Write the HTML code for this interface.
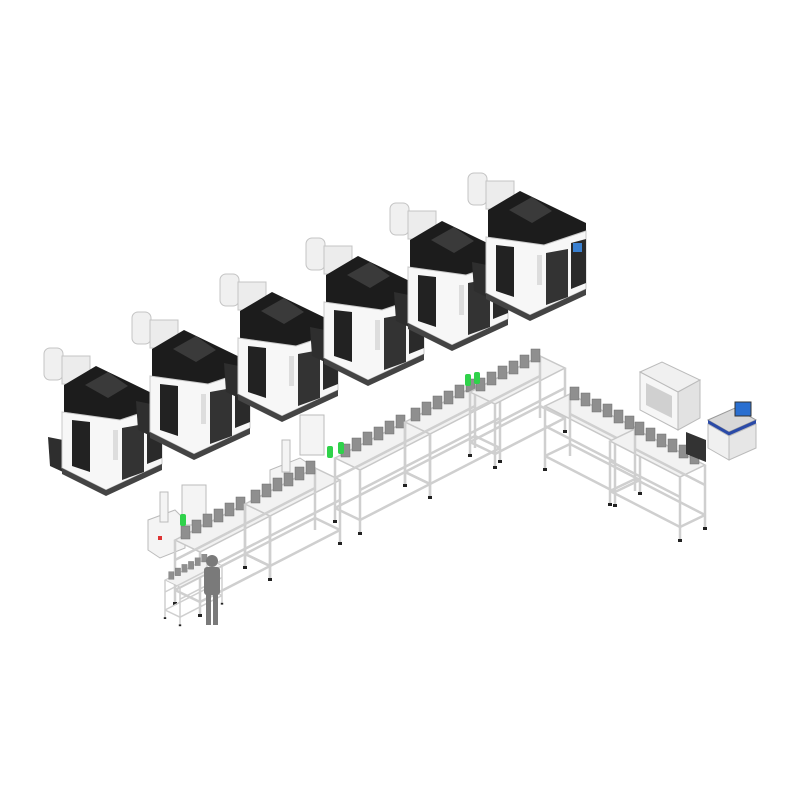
<!DOCTYPE html>
<html><head><meta charset="utf-8"><style>html,body{margin:0;padding:0;background:#fff}svg{display:block}</style></head>
<body>
<svg width="800" height="800" viewBox="0 0 800 800" xmlns="http://www.w3.org/2000/svg">
<defs>
 <g id="m">
  <polygon points="48,437 63,440 63,472 50,466" fill="#2e2e2e"/>
  <rect x="44" y="348" width="19" height="32" rx="6" fill="#f0f0f0" stroke="#c4c4c4"/>
  <rect x="62" y="356" width="28" height="28" fill="#ececec" stroke="#c4c4c4"/>
  <polygon points="64,385 96,366 162,398 162,408 120,420 64,412" fill="#1c1c1c"/>
  <polygon points="85,385 108,372 128,386 108,398" fill="#3a3a3a"/>
  <polygon points="62,412 120,420 162,406 162,464 106,490 62,468" fill="#f7f7f7" stroke="#c8c8c8"/>
  <polygon points="72,420 90,422 90,472 72,466" fill="#222"/>
  <polygon points="122,428 144,424 144,472 122,480" fill="#333"/>
  <polygon points="147,418 162,414 162,458 147,464" fill="#2a2a2a"/>
  <rect x="149" y="418" width="9" height="9" fill="#3a80d0"/>
  <rect x="113" y="430" width="5" height="30" fill="#ddd"/>
  <polygon points="62,468 106,490 162,464 162,470 106,496 62,474" fill="#444"/>
 </g>
 <g id="r">
  <polygon points="0,0 70,-36 95,-24 25,12" fill="#f2f2f2" stroke="#c8c8c8" stroke-width="1.5"/>
  <g stroke="#cfcfcf" stroke-width="2.5">
   <line x1="0" y1="0" x2="0" y2="62"/><line x1="70" y1="-36" x2="70" y2="26"/>
   <line x1="95" y1="-24" x2="95" y2="38"/><line x1="25" y1="12" x2="25" y2="74"/>
   <line x1="0" y1="50" x2="70" y2="14"/><line x1="25" y1="62" x2="95" y2="26"/>
   <line x1="0" y1="50" x2="25" y2="62"/><line x1="70" y1="14" x2="95" y2="26"/>
   <line x1="0" y1="20" x2="70" y2="-16"/><line x1="25" y1="32" x2="95" y2="-4"/>
  </g>
  <g fill="#8f8f8f" stroke="#6f6f6f" stroke-width=".5">
   <rect x="6" y="-14" width="9" height="13"/><rect x="17" y="-20" width="9" height="13"/>
   <rect x="28" y="-26" width="9" height="13"/><rect x="39" y="-31" width="9" height="13"/>
   <rect x="50" y="-37" width="9" height="13"/><rect x="61" y="-43" width="9" height="13"/>
  </g>
  <g fill="#222"><rect x="-2" y="62" width="4" height="3"/><rect x="23" y="74" width="4" height="3"/><rect x="93" y="38" width="4" height="3"/></g>
 </g>
</defs>
<use href="#m"/>
<use href="#m" transform="translate(88,-36)"/>
<use href="#m" transform="translate(176,-74)"/>
<use href="#m" transform="translate(262,-110)"/>
<use href="#m" transform="translate(346,-145)"/>
<use href="#m" transform="translate(424,-175)"/>

<!-- robots -->
<g fill="#f4f4f4" stroke="#bbb">
 <polygon points="148,520 175,510 185,520 185,548 160,558 148,550"/>
 <polygon points="270,470 300,458 315,468 315,490 285,500 270,492"/>
 <rect x="160" y="492" width="8" height="30"/>
 <rect x="282" y="440" width="8" height="32"/>
 <rect x="182" y="485" width="24" height="40"/>
 <rect x="300" y="415" width="24" height="40"/>
</g>
<rect x="158" y="536" width="4" height="4" fill="#d33"/>

<use href="#r" transform="translate(175,540)"/>
<use href="#r" transform="translate(245,504)"/>
<use href="#r" transform="translate(335,458)"/>
<use href="#r" transform="translate(405,422)"/>
<use href="#r" transform="translate(470,392)"/>
<use href="#r" transform="translate(165,580) scale(.6)"/>

<!-- green lights -->
<g fill="#2fd24a">
 <rect x="180" y="514" width="6" height="12" rx="2"/>
 <rect x="327" y="446" width="6" height="12" rx="2"/>
 <rect x="338" y="442" width="6" height="12" rx="2"/>
 <rect x="465" y="374" width="6" height="12" rx="2"/>
 <rect x="474" y="372" width="6" height="12" rx="2"/>
</g>
<!-- person -->
<g fill="#7a7a7a">
 <circle cx="212" cy="561" r="6"/>
 <rect x="204" y="567" width="16" height="28" rx="3"/>
 <rect x="206" y="594" width="5" height="31"/>
 <rect x="213" y="594" width="5" height="31"/>
</g>

<!-- right station -->
<use href="#r" transform="translate(640,430) scale(-1,1)"/>
<use href="#r" transform="translate(705,465) scale(-1,1)"/>
<polygon points="640,372 662,362 700,380 678,392" fill="#f0f0f0" stroke="#bbb"/>
<polygon points="640,372 678,392 678,430 640,410" fill="#f6f6f6" stroke="#bbb"/>
<polygon points="678,392 700,380 700,418 678,430" fill="#e2e2e2" stroke="#bbb"/>
<polygon points="646,383 672,396 672,418 646,405" fill="#d0d0d0"/>
<polygon points="686,432 706,440 706,462 686,454" fill="#333"/>
<polygon points="708,420 735,408 756,420 729,432" fill="#d8d8d8" stroke="#999"/>
<polygon points="708,420 729,432 729,436 708,424" fill="#2a4aa8"/>
<polygon points="729,432 756,420 756,424 729,436" fill="#2a4aa8"/>
<polygon points="708,424 729,436 729,460 708,448" fill="#f0f0f0" stroke="#bbb"/>
<polygon points="729,436 756,424 756,448 729,460" fill="#e6e6e6" stroke="#bbb"/>
<rect x="735" y="402" width="16" height="14" fill="#2a6fd0" stroke="#333"/>
</svg>
</body></html>
